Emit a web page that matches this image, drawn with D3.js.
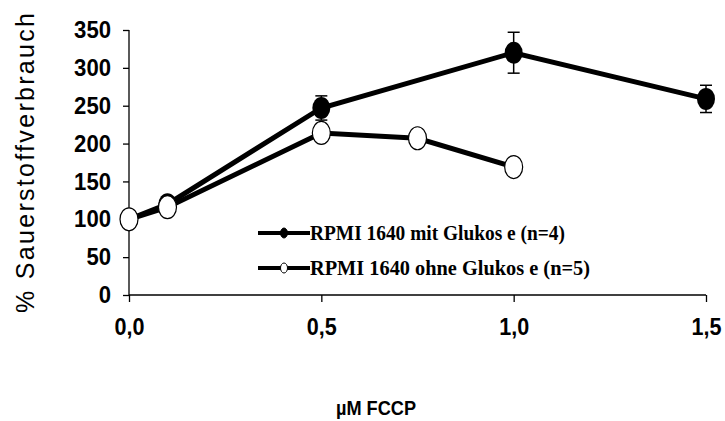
<!DOCTYPE html>
<html>
<head>
<meta charset="utf-8">
<script src="https://cdn.jsdelivr.net/npm/d3@7"></script>
<style>
  body { margin: 0; background: #fff; }
  svg { display: block; }
</style>
</head>
<body>
<div id="chart"></div>
<script>
// data
var xGluc = [0, 0.1, 0.5, 1.0, 1.5],
    gluc = [100, 120, 247, 320, 259],
    glucErr = [0, 0, 16, 27, 18];

var xNoGluc = [0, 0.1, 0.5, 0.75, 1.0],
    noGluc = [100, 116, 214, 207, 169];

var yTicks = [0, 50, 100, 150, 200, 250, 300, 350],
    xTicks = [0, 0.5, 1.0, 1.5];

var legendLabels = ["RPMI 1640 mit Glukos e (n=4)", "RPMI 1640 ohne Glukos e (n=5)"];

var width = 725, height = 421;

var svg = d3.select("#chart").append("svg")
  .attr("width", width)
  .attr("height", height);

var x = d3.scaleLinear().domain([0, 1.5]).range([129, 706]),
    y = d3.scaleLinear().domain([0, 350]).range([295, 30]);

var numFont = "Arial, 'Liberation Sans', sans-serif";

// y axis
var yAxis = svg.append("g")
  .attr("transform", "translate(" + x(0) + ",0)")
  .call(d3.axisLeft(y).tickValues(yTicks).tickSize(6).tickPadding(12));
yAxis.select(".domain").attr("d", "M0," + y(0) + "V" + y(350));
yAxis.selectAll("text")
  .style("font-family", numFont)
  .style("font-weight", "bold")
  .style("font-size", "24px")
  .attr("lengthAdjust", "spacingAndGlyphs")
  .attr("textLength", function (d) { return String(d).length * 12.3; })
  .attr("fill", "#000");

// x axis
var fmt = function (d) { return d3.format(".1f")(d).replace(".", ","); };
var xAxis = svg.append("g")
  .attr("transform", "translate(0," + y(0) + ")")
  .call(d3.axisBottom(x).tickValues(xTicks).tickSize(7).tickPadding(16).tickFormat(fmt));
xAxis.select(".domain").attr("d", "M" + x(0) + ",0H" + x(1.5));
xAxis.selectAll("text")
  .style("font-family", numFont)
  .style("font-weight", "bold")
  .style("font-size", "24px")
  .attr("lengthAdjust", "spacingAndGlyphs")
  .attr("textLength", 30)
  .attr("fill", "#000");

svg.selectAll(".domain, .tick line").attr("stroke", "#000").attr("stroke-width", 1.3);

// axis titles
svg.append("text")
  .attr("transform", "translate(34,163) rotate(-90)")
  .attr("text-anchor", "middle")
  .attr("textLength", 300)
  .style("font-family", numFont)
  .style("font-size", "25px")
  .text("% Sauerstoffverbrauch");

svg.append("text")
  .attr("x", 376)
  .attr("y", 415)
  .attr("text-anchor", "middle")
  .attr("textLength", 80)
  .attr("lengthAdjust", "spacingAndGlyphs")
  .style("font-family", numFont)
  .style("font-weight", "bold")
  .style("font-size", "21px")
  .text("µM FCCP");

var line = d3.line()
  .x(function (d) { return x(d.x); })
  .y(function (d) { return y(d.y); });

var glucData = xGluc.map(function (v, i) { return { x: v, y: gluc[i], e: glucErr[i] }; }),
    noGlucData = xNoGluc.map(function (v, i) { return { x: v, y: noGluc[i] }; });

// series with glucose
svg.append("path")
  .datum(glucData)
  .attr("d", line)
  .attr("fill", "none")
  .attr("stroke", "#000")
  .attr("stroke-width", 5);

var err = svg.selectAll(".err")
  .data(glucData.filter(function (d) { return d.e > 0; }))
  .enter().append("g").attr("class", "err");
err.append("line")
  .attr("x1", function (d) { return x(d.x); })
  .attr("x2", function (d) { return x(d.x); })
  .attr("y1", function (d) { return y(d.y + d.e); })
  .attr("y2", function (d) { return y(d.y - d.e); });
err.append("line")
  .attr("x1", function (d) { return x(d.x) - 6; })
  .attr("x2", function (d) { return x(d.x) + 6; })
  .attr("y1", function (d) { return y(d.y + d.e); })
  .attr("y2", function (d) { return y(d.y + d.e); });
err.append("line")
  .attr("x1", function (d) { return x(d.x) - 6; })
  .attr("x2", function (d) { return x(d.x) + 6; })
  .attr("y1", function (d) { return y(d.y - d.e); })
  .attr("y2", function (d) { return y(d.y - d.e); });
err.selectAll("line").attr("stroke", "#000").attr("stroke-width", 1.5);

svg.selectAll(".dot-gluc")
  .data(glucData)
  .enter().append("ellipse")
  .attr("class", "dot-gluc")
  .attr("cx", function (d) { return x(d.x); })
  .attr("cy", function (d) { return y(d.y); })
  .attr("rx", 9)
  .attr("ry", 11)
  .attr("fill", "#000");

// series without glucose
svg.append("path")
  .datum(noGlucData)
  .attr("d", line)
  .attr("fill", "none")
  .attr("stroke", "#000")
  .attr("stroke-width", 5);

svg.selectAll(".dot-nogluc")
  .data(noGlucData)
  .enter().append("ellipse")
  .attr("class", "dot-nogluc")
  .attr("cx", function (d) { return x(d.x); })
  .attr("cy", function (d) { return y(d.y); })
  .attr("rx", 9)
  .attr("ry", 11.5)
  .attr("fill", "#fff")
  .attr("stroke", "#000")
  .attr("stroke-width", 1.2);

// legend
var legend = svg.selectAll(".legend")
  .data(legendLabels)
  .enter().append("g")
  .attr("class", "legend")
  .attr("transform", function (d, i) { return "translate(258," + (233 + i * 35) + ")"; });

legend.append("line")
  .attr("x1", 0).attr("x2", 52)
  .attr("stroke", "#000")
  .attr("stroke-width", 4);

legend.append("ellipse")
  .attr("cx", 26)
  .attr("rx", 3.5)
  .attr("ry", 5)
  .attr("fill", function (d, i) { return i === 0 ? "#000" : "#fff"; })
  .attr("stroke", "#000")
  .attr("stroke-width", 1);

legend.append("text")
  .attr("x", 52)
  .attr("y", 7)
  .attr("textLength", function (d, i) { return i === 0 ? 255 : 280; })
  .attr("lengthAdjust", "spacingAndGlyphs")
  .style("font-family", "'Times New Roman', 'Liberation Serif', serif")
  .style("font-weight", "bold")
  .style("font-size", "20px")
  .text(function (d) { return d; });
</script>
</body>
</html>
